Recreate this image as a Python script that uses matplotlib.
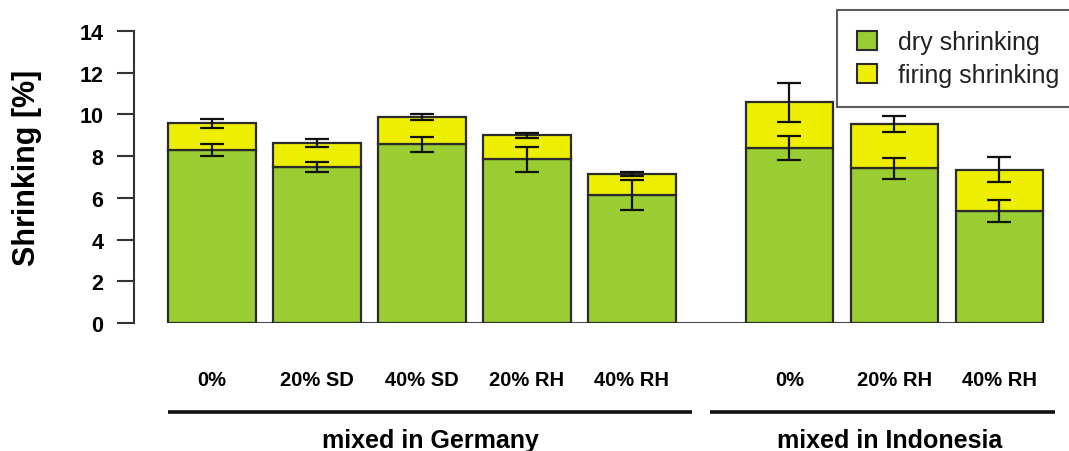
import matplotlib
matplotlib.use("Agg")
import matplotlib.pyplot as plt
import numpy as np
from matplotlib.patches import Patch

# Shrinkage of clay bodies with different additives
categories = ["0%", "20% SD", "40% SD", "20% RH", "40% RH", "0%", "20% RH", "40% RH"]
groups = ["mixed in Germany", "mixed in Indonesia"]
group_sizes = [5, 3]

dry = [8.30, 7.47, 8.57, 7.86, 6.12, 8.40, 7.42, 5.37]
firing = [1.27, 1.15, 1.31, 1.14, 1.02, 2.18, 2.13, 1.98]
dry_err = [0.28, 0.24, 0.37, 0.60, 0.72, 0.58, 0.51, 0.51]
firing_err = [0.20, 0.20, 0.14, 0.11, 0.08, 0.93, 0.39, 0.60]

series_labels = ["dry shrinking", "firing shrinking"]
GREEN = "#9ACD32"
YELLOW = "#EEEE00"
EDGE = "#2b2b2b"

plt.rcParams["font.family"] = ["Liberation Sans", "DejaVu Sans"]

W, H = 1069, 452
fig = plt.figure(figsize=(W / 100, H / 100), dpi=100)

left_px, right_px = 134, 1045
bottom_px, top_px = 324, 32
ax = fig.add_axes([left_px / W, 1 - bottom_px / H,
                   (right_px - left_px) / W, (bottom_px - top_px) / H])

# bar positions: a wider gap separates the two groups
pos = []
x = 0.0
for gi, n in enumerate(group_sizes):
    for k in range(n):
        pos.append(x)
        x += 1.0
    x += 0.5
pos = np.array(pos)
width = 0.83

dry = np.array(dry)
firing = np.array(firing)
total = dry + firing

ax.bar(pos, dry, width, color=GREEN, edgecolor=EDGE, linewidth=1.6, zorder=2)
ax.bar(pos, firing, width, bottom=dry, color=YELLOW, edgecolor=EDGE,
       linewidth=1.6, zorder=2)

ax.errorbar(pos, dry, yerr=dry_err, fmt="none", ecolor="#111111",
            elinewidth=1.6, capsize=8.3, capthick=1.6, zorder=3)
ax.errorbar(pos, total, yerr=firing_err, fmt="none", ecolor="#111111",
            elinewidth=1.6, capsize=8.3, capthick=1.6, zorder=3)

# baseline under the bars
ax.hlines(0, pos[0] - width / 2, pos[-1] + width / 2, color="#444444",
          linewidth=1.5, zorder=1)

xmin = pos[0] + (left_px - 212) / 105
xmax = pos[0] + (right_px - 212) / 105
ax.set_xlim(xmin, xmax)
ax.set_ylim(0, 14)

for s in ["top", "right", "bottom"]:
    ax.spines[s].set_visible(False)
ax.spines["left"].set_linewidth(1.5)
ax.spines["left"].set_color("#333333")
ax.spines["left"].set_bounds(0, 14)

ax.set_yticks(np.arange(0, 15, 2))
ax.tick_params(axis="y", length=12.2, width=1.5, color="#333333", pad=10,
               labelsize=15.5)
for t in ax.get_yticklabels():
    t.set_fontweight("bold")

ax.set_xticks(pos)
ax.set_xticklabels(categories, fontsize=14.5, fontweight="bold")
ax.tick_params(axis="x", length=0, pad=34)

# group brackets and labels
ax_h = bottom_px - top_px
line_y = -(413 - bottom_px) / ax_h
label_y = -(441 - bottom_px) / ax_h
trans = ax.get_xaxis_transform()
spans = [(pos[0] + (168 - 212) / 105, pos[0] + (692 - 212) / 105),
         (pos[0] + (710 - 212) / 105, pos[0] + (1055 - 212) / 105)]
label_x = [(spans[0][0] + spans[0][1]) / 2, pos[0] + (890 - 212) / 105]
for g, (x0, x1), lx in zip(groups, spans, label_x):
    ax.plot([x0, x1], [line_y, line_y], transform=trans, color="#111111",
            linewidth=2.6, clip_on=False, solid_capstyle="butt")
    ax.text(lx, label_y, g, transform=trans, ha="center", va="center",
            fontsize=18, fontweight="bold")

fig.text(27 / W, 1 - 167.5 / H, "Shrinking [%]", rotation=90, ha="center",
         va="center", fontsize=22, fontweight="bold")

handles = [Patch(facecolor=GREEN, edgecolor=EDGE, linewidth=1.5),
           Patch(facecolor=YELLOW, edgecolor=EDGE, linewidth=1.5)]
leg = fig.legend(handles, series_labels, loc="upper left",
                 bbox_to_anchor=(836.7 / W, 1 - 11 / H),
                 bbox_transform=fig.transFigure, fontsize=18,
                 frameon=True, fancybox=False, borderaxespad=0,
                 handlelength=0.8, handleheight=0.76, handletextpad=0.85,
                 labelspacing=0.36, borderpad=0.8)
frame = leg.get_frame()
frame.set_edgecolor("#333333")
frame.set_linewidth(1.5)
for t in leg.get_texts():
    t.set_color("#222222")

fig.savefig("out.png", dpi=100)
